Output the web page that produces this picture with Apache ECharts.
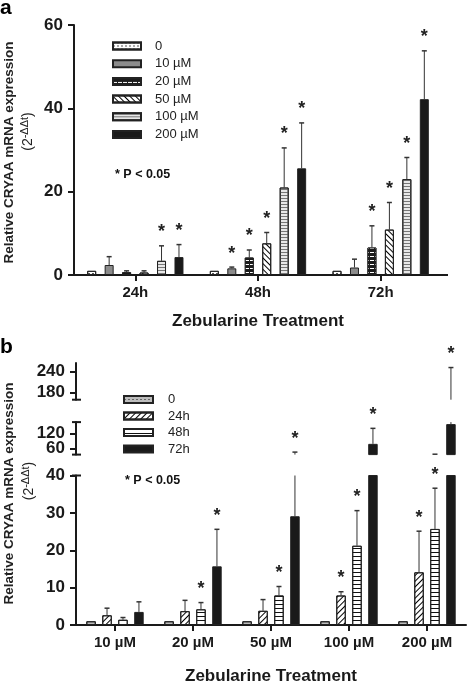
<!DOCTYPE html>
<html><head><meta charset="utf-8">
<script src="https://cdn.jsdelivr.net/npm/echarts@6/dist/echarts.min.js"></script>
<style>html,body{margin:0;padding:0;background:#fff}#c{width:472px;height:686px}</style>
</head><body><div id="c"></div>
<script>
// ---------- Panel a data (Zebularine dose, by time) ----------
const catsA = ['24h', '48h', '72h'];
const namesA = ['0', '10 µM', '20 µM', '50 µM', '100 µM', '200 µM'];
const meanA_0   = [1.0, 1.0, 1.0];
const meanA_10  = [2.4, 1.6, 1.8];
const meanA_20  = [0.7, 4.2, 6.6];
const meanA_50  = [0.6, 7.6, 10.9];
const meanA_100 = [3.4, 21.0, 23.0];
const meanA_200 = [4.3, 25.6, 42.2];
const errTopA_0   = [1.0, 1.0, 1.0];
const errTopA_10  = [4.4, 1.9, 3.8];
const errTopA_20  = [1.0, 6.0, 11.8];
const errTopA_50  = [1.0, 10.2, 17.4];
const errTopA_100 = [7.0, 30.5, 28.2];
const errTopA_200 = [7.3, 36.5, 53.8];
const starA_0   = [0, 0, 0];
const starA_10  = [0, 1, 0];
const starA_20  = [0, 1, 1];
const starA_50  = [0, 1, 1];
const starA_100 = [1, 1, 1];
const starA_200 = [1, 1, 1];
const ticksA = [0, 20, 40, 60];

// ---------- Panel b data (time, by dose) ----------
const catsB = ['10 µM', '20 µM', '50 µM', '100 µM', '200 µM'];
const namesB = ['0', '24h', '48h', '72h'];
const meanB_0  = [1.0, 1.0, 1.0, 1.0, 1.0];
const meanB_24 = [2.6, 3.7, 3.8, 7.9, 14.1];
const meanB_48 = [1.4, 4.2, 7.9, 21.2, 25.7];
const meanB_72 = [3.5, 15.7, 29.1, 78, 157];
const errTopB_0  = [1.0, 1.0, 1.0, 1.0, 1.0];
const errTopB_24 = [4.5, 6.6, 6.8, 8.9, 25.1];
const errTopB_48 = [2.0, 6.0, 10.3, 30.6, 36.6];
const errTopB_72 = [6.2, 25.6, 45, 140, 252];
const starB_0  = [0, 0, 0, 0, 0];
const starB_24 = [0, 0, 0, 1, 1];
const starB_48 = [0, 1, 1, 1, 1];
const starB_72 = [0, 1, 1, 1, 1];
const ticksB_low = [0, 10, 20, 30, 40];
const ticksB_mid = [60, 120];
const ticksB_top = [180, 240];

// ---------- styling ----------
const F = '"Liberation Sans", Arial, Helvetica, sans-serif';
const FN = '"Liberation Sans Narrow", "Liberation Sans", Arial, sans-serif';
const INK = '#1a1a1a';

const stylesA = [
  {color: '#ffffff', decal: {symbol: 'rect', dashArrayX: [2, 2], dashArrayY: [1, 2], color: '#555'}},
  {color: '#8c8c8c'},
  {color: '#1c1c1c', decal: {symbol: 'rect', dashArrayX: [4, 1], dashArrayY: [1, 3], color: '#ffffff'}},
  {color: '#ffffff', decal: {symbol: 'rect', dashArrayX: [1, 0], dashArrayY: [1, 3], rotation: Math.PI / 4, color: '#000'}},
  {color: '#e8e8e8', decal: {symbol: 'rect', dashArrayX: [1, 0], dashArrayY: [1, 2], color: '#777'}},
  {color: '#1a1a1a'}
];
const stylesB = [
  {color: '#bdbdbd', decal: {symbol: 'rect', dashArrayX: [2, 2], dashArrayY: [1, 2], color: '#666'}},
  {color: '#ffffff', decal: {symbol: 'rect', dashArrayX: [1, 0], dashArrayY: [1, 3], rotation: -Math.PI / 4, color: '#000'}},
  {color: '#ffffff', decal: {symbol: 'rect', dashArrayX: [1, 0], dashArrayY: [1, 3], color: '#111'}},
  {color: '#1a1a1a'}
];

const meansA = [meanA_0, meanA_10, meanA_20, meanA_50, meanA_100, meanA_200];
const errsA = [errTopA_0, errTopA_10, errTopA_20, errTopA_50, errTopA_100, errTopA_200];
const starsA = [starA_0, starA_10, starA_20, starA_50, starA_100, starA_200];
const meansB = [meanB_0, meanB_24, meanB_48, meanB_72];
const errsB = [errTopB_0, errTopB_24, errTopB_48, errTopB_72];
const starsB = [starB_0, starB_24, starB_48, starB_72];

const BW_A = 9, GAP_A = 0.94;
const BW_B = 9.5, GAP_B = 0.68;

function barSeries(name, data, ai, st, bw, gap) {
  const it = {color: st.color, borderColor: '#222', borderWidth: 1};
  if (st.decal) it.decal = st.decal;
  return {type: 'bar', name: name, data: data, xAxisIndex: ai, yAxisIndex: ai,
    barWidth: bw, barGap: (gap * 100) + '%', itemStyle: it, clip: true,
    emphasis: {disabled: true}, silent: true, z: 2};
}

function errSeries(idx, n, means, errs, stars, ai, bw, gap, yMin, yMax, sMin, sMax) {
  const data = means.map((m, i) => [i, m, errs[i], stars[i]]);
  return {type: 'custom', name: 'err' + ai + '_' + idx, xAxisIndex: ai, yAxisIndex: ai,
    data: data, silent: true, z: 3, clip: false,
    renderItem: function (params, api) {
      const cat = api.value(0), v = api.value(1), e = api.value(2), star = api.value(3);
      const step = bw * (1 + gap);
      const x = api.coord([cat, 0])[0] + (idx - (n - 1) / 2) * step;
      const ch = [];
      const lo = Math.max(v, yMin), hi = Math.min(e, yMax);
      if (e > v && hi > lo) {
        ch.push({type: 'line', shape: {x1: x, y1: api.coord([cat, lo])[1], x2: x, y2: api.coord([cat, hi])[1]},
          style: {stroke: '#333', lineWidth: 1}});
      }
      if (e > v && e >= yMin && e <= yMax) {
        const yt = api.coord([cat, e])[1];
        ch.push({type: 'line', shape: {x1: x - 2.5, y1: yt, x2: x + 2.5, y2: yt}, style: {stroke: '#333', lineWidth: 1.5}});
      }
      if (star && e > sMin && e <= sMax) {
        const yt = api.coord([cat, e])[1];
        ch.push({type: 'text', x: x, y: yt - 13.5, style: {text: '*', font: 'bold 18px ' + F, fill: '#222', align: 'center', verticalAlign: 'middle'}});
      }
      return {type: 'group', children: ch};
    }};
}

function catAxis(gi, data, show, name, gapName) {
  return {type: 'category', gridIndex: gi, data: data, show: show,
    axisLine: {show: true, onZero: false, lineStyle: {color: INK, width: 2}},
    axisTick: {show: true, alignWithLabel: true, length: 6, lineStyle: {color: INK, width: 2}},
    axisLabel: {margin: 10, fontFamily: F, fontWeight: 'bold', fontSize: 15, color: INK},
    splitLine: {show: false},
    name: name || '', nameLocation: 'middle', nameGap: gapName || 0,
    nameTextStyle: {fontFamily: F, fontWeight: 'bold', fontSize: 17, color: INK}};
}
function valAxis(gi, min, max, custom, showLine) {
  return {type: 'value', gridIndex: gi, min: min, max: max, position: 'left', offset: 0,
    axisLine: {show: showLine !== false, onZero: false, lineStyle: {color: INK, width: 2}},
    axisTick: {show: true, length: 6, customValues: custom, lineStyle: {color: INK, width: 2}},
    axisLabel: {margin: 11, customValues: custom, hideOverlap: false, showMinLabel: true, showMaxLabel: true,
      fontFamily: F, fontWeight: 'bold', fontSize: 17, color: INK},
    splitLine: {show: false}};
}

// layout
const GA = {left: 74, top: 25, width: 368, height: 250};
const GB0 = {left: 76, top: 475.5, width: 390, height: 157.2};
const GB1 = {left: 76, top: 422.1, width: 390, height: 32.5};
const GB2 = {left: 76, top: 363, width: 390, height: 36.7};

const series = [];
namesA.forEach((nm, i) => series.push(barSeries(nm, meansA[i], 0, stylesA[i], BW_A, GAP_A)));
namesA.forEach((nm, i) => series.push(errSeries(i, 6, meansA[i], errsA[i], starsA[i], 0, BW_A, GAP_A, 0, 60, -Infinity, Infinity)));
const segB = [
  {ai: 1, min: 0, max: 40, sMin: -Infinity, sMax: 40},
  {ai: 2, min: 35, max: 165, sMin: 40, sMax: 160},
  {ai: 3, min: 160, max: 265, sMin: 160, sMax: Infinity}
];
segB.forEach(s => {
  namesB.forEach((nm, i) => series.push(barSeries('B ' + nm, meansB[i], s.ai, stylesB[i], BW_B, GAP_B)));
  namesB.forEach((nm, i) => series.push(errSeries(i, 4, meansB[i], errsB[i], starsB[i], s.ai, BW_B, GAP_B, s.min, s.max, s.sMin, s.sMax)));
});

function cap(x, y, l, r) {
  return {type: 'line', silent: true, shape: {x1: x - l, y1: y, x2: x + r, y2: y}, style: {stroke: INK, lineWidth: 2}};
}
const AXB = GB0.left;
const supRich = {n: {fontSize: 14, fontFamily: F, fill: '#222', lineHeight: 16},
                 s: {fontSize: 11, fontFamily: F, fill: '#222', padding: [0, 0, 6, 0]}};

const option = {
  animation: false,
  backgroundColor: '#ffffff',
  textStyle: {fontFamily: F},
  tooltip: {show: false},
  grid: [GA, GB0, GB1, GB2],
  xAxis: [
    catAxis(0, catsA, true, 'Zebularine Treatment', 38),
    catAxis(1, catsB, true, 'Zebularine Treatment', 43),
    catAxis(2, catsB, false),
    catAxis(3, catsB, false)
  ],
  yAxis: [
    valAxis(0, 0, 60, ticksA),
    valAxis(1, 0, 40, ticksB_low),
    valAxis(2, 35, 165, [ticksB_mid[0]]),
    valAxis(3, 160, 265, ticksB_top),
    valAxis(2, 35, 165, [ticksB_mid[1]], false)
  ],
  legend: [
    {data: namesA, orient: 'vertical', left: 107, top: 34, itemWidth: 28, itemHeight: 7, itemGap: 3.7,
      icon: 'rect', selectedMode: false,
      textStyle: {fontFamily: F, fontSize: 13, color: '#222', lineHeight: 14, padding: [0, 0, 0, 9]}},
    {data: namesB.map(n => 'B ' + n), orient: 'vertical', left: 118, top: 387.5, itemWidth: 29, itemHeight: 7, itemGap: 2.5,
      icon: 'rect', selectedMode: false, formatter: n => n.slice(2),
      textStyle: {fontFamily: F, fontSize: 13, color: '#222', lineHeight: 14, padding: [0, 0, 0, 10]}}
  ],
  series: series,
  graphic: [
    {type: 'text', x: 0, y: 8, style: {text: 'a', font: 'bold 21px ' + F, fill: '#000', align: 'left', verticalAlign: 'middle'}},
    {type: 'text', x: 0, y: 347, style: {text: 'b', font: 'bold 21px ' + F, fill: '#000', align: 'left', verticalAlign: 'middle'}},
    {type: 'text', x: 115, y: 175, style: {text: '* P < 0.05', font: 'bold 12.5px ' + FN, fill: '#111', align: 'left', verticalAlign: 'middle'}},
    {type: 'text', x: 125, y: 481, style: {text: '* P < 0.05', font: 'bold 12.5px ' + FN, fill: '#111', align: 'left', verticalAlign: 'middle'}},
    {type: 'text', x: 9, y: 152.5, rotation: Math.PI / 2,
      style: {text: 'Relative CRYAA mRNA expression', font: 'bold 13.5px ' + F, fill: '#222', align: 'center', verticalAlign: 'middle'}},
    {type: 'text', x: 28, y: 131.5, rotation: Math.PI / 2,
      style: {text: '{n|(2}{s|-ΔΔt}{n|)}', align: 'center', verticalAlign: 'middle', rich: supRich}},
    {type: 'text', x: 9, y: 493.5, rotation: Math.PI / 2,
      style: {text: 'Relative CRYAA mRNA expression', font: 'bold 13.5px ' + F, fill: '#222', align: 'center', verticalAlign: 'middle'}},
    {type: 'text', x: 29, y: 481, rotation: Math.PI / 2,
      style: {text: '{n|(2}{s|-ΔΔt}{n|)}', align: 'center', verticalAlign: 'middle', rich: supRich}},
    // axis decorations: x-axis extension (panel a) and break caps (panel b)
    {type: 'line', silent: true, shape: {x1: GA.left + GA.width, y1: GA.top + GA.height, x2: GA.left + GA.width + 6, y2: GA.top + GA.height}, style: {stroke: INK, lineWidth: 2}},
    cap(AXB, GB0.top, 4, 5),
    cap(AXB, GB1.top, 4, 5),
    cap(AXB, GB1.top + GB1.height, 4, 5),
    cap(AXB, GB2.top + GB2.height, 4, 5)
  ]
};

const chart = echarts.init(document.getElementById('c'), null, {renderer: 'canvas'});
chart.setOption(option);
</script>
</body></html>
